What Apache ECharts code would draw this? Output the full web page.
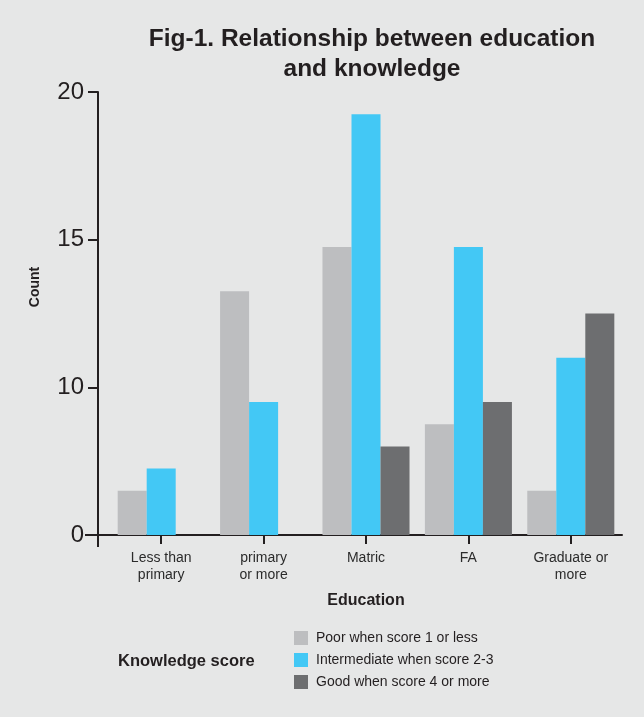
<!DOCTYPE html>
<html>
<head>
<meta charset="utf-8">
<script src="https://cdn.jsdelivr.net/npm/echarts@6/dist/echarts.min.js"></script>
<style>
html,body{margin:0;padding:0;background:#e6e7e7;}
#chart{width:644px;height:717px;}
</style>
</head>
<body>
<div id="chart"></div>
<script>
const categories = ['Less than\nprimary', 'primary\nor more', 'Matric', 'FA', 'Graduate or\nmore'];
const seriesNames = ['Poor when score 1 or less', 'Intermediate when score 2-3', 'Good when score 4 or more'];
const poor = [2, 11, 13, 5, 2];
const intermediate = [3, 6, 19, 13, 8];
const good = [0, 0, 4, 6, 10];
const yTickLabels = ['0', '10', '15', '20'];
const colors = ['#bdbec0', '#43c8f5', '#6d6e70'];

const chart = echarts.init(document.getElementById('chart'));
const textColor = '#231f20';
const font = 'Liberation Sans, Arial, sans-serif';

function bar(name, data, color) {
  return {
    name: name, type: 'bar', data: data,
    barGap: '0%', barCategoryGap: '15%',
    itemStyle: { color: color },
    emphasis: { disabled: true }
  };
}

chart.setOption({
  backgroundColor: '#e6e7e7',
  animation: false,
  textStyle: { fontFamily: font },
  title: [
    {
      text: 'Fig-1. Relationship between education\nand knowledge',
      left: 367, top: 19, textAlign: 'center',
      textStyle: { fontSize: 24.5, fontWeight: 'bold', color: textColor, lineHeight: 30, fontFamily: font }
    },
    {
      text: 'Knowledge score',
      left: 113, top: 648,
      textStyle: { fontSize: 16.5, fontWeight: 'bold', color: textColor, fontFamily: font }
    }
  ],
  legend: {
    orient: 'vertical', left: 289, top: 626,
    itemWidth: 14, itemHeight: 14, itemGap: 8,
    icon: 'rect',
    data: seriesNames,
    textStyle: { fontSize: 14, color: textColor, fontFamily: font, padding: [0, 0, 0, 3] }
  },
  grid: { left: 110, right: 22, top: 92, bottom: 182 },
  xAxis: {
    type: 'category', data: categories,
    axisLine: { lineStyle: { color: textColor, width: 2 } },
    axisTick: { show: true, length: 9, alignWithLabel: true, lineStyle: { color: textColor, width: 2 } },
    axisLabel: { fontSize: 14, color: '#2b2b2b', lineHeight: 17, margin: 15, fontFamily: font, interval: 0 },
    name: 'Education', nameLocation: 'middle', nameGap: 58,
    nameTextStyle: { fontSize: 16, fontWeight: 'bold', color: textColor, fontFamily: font }
  },
  yAxis: {
    type: 'value', min: 0, max: 20, interval: 20 / 3, offset: 12,
    axisLine: { show: true, lineStyle: { color: textColor, width: 2 } },
    axisTick: { show: true, length: 10, lineStyle: { color: textColor, width: 2 } },
    splitLine: { show: false },
    axisLabel: {
      fontSize: 24, color: textColor, margin: 14, fontFamily: font,
      formatter: function (v) { return yTickLabels[Math.round(v * 3 / 20)]; }
    }
  },
  series: [
    bar(seriesNames[0], poor, colors[0]),
    bar(seriesNames[1], intermediate, colors[1]),
    bar(seriesNames[2], good, colors[2])
  ]
});

// axis corner extension and y-axis title (decoration)
const baseY = chart.convertToPixel({ yAxisIndex: 0 }, 0);
const gridLeft = 110, axisX = 98;
chart.setOption({
  graphic: [
    { type: 'line', shape: { x1: axisX, y1: baseY - 1, x2: axisX, y2: baseY + 12 }, style: { stroke: textColor, lineWidth: 2 } },
    { type: 'line', shape: { x1: axisX - 13, y1: baseY, x2: gridLeft, y2: baseY }, style: { stroke: textColor, lineWidth: 2 } },
    { type: 'text', x: 35, y: 287, rotation: Math.PI / 2,
      style: { text: 'Count', fill: textColor, font: 'bold 14px Liberation Sans, Arial, sans-serif', textAlign: 'center', textVerticalAlign: 'middle' } }
  ]
});
</script>
</body>
</html>
